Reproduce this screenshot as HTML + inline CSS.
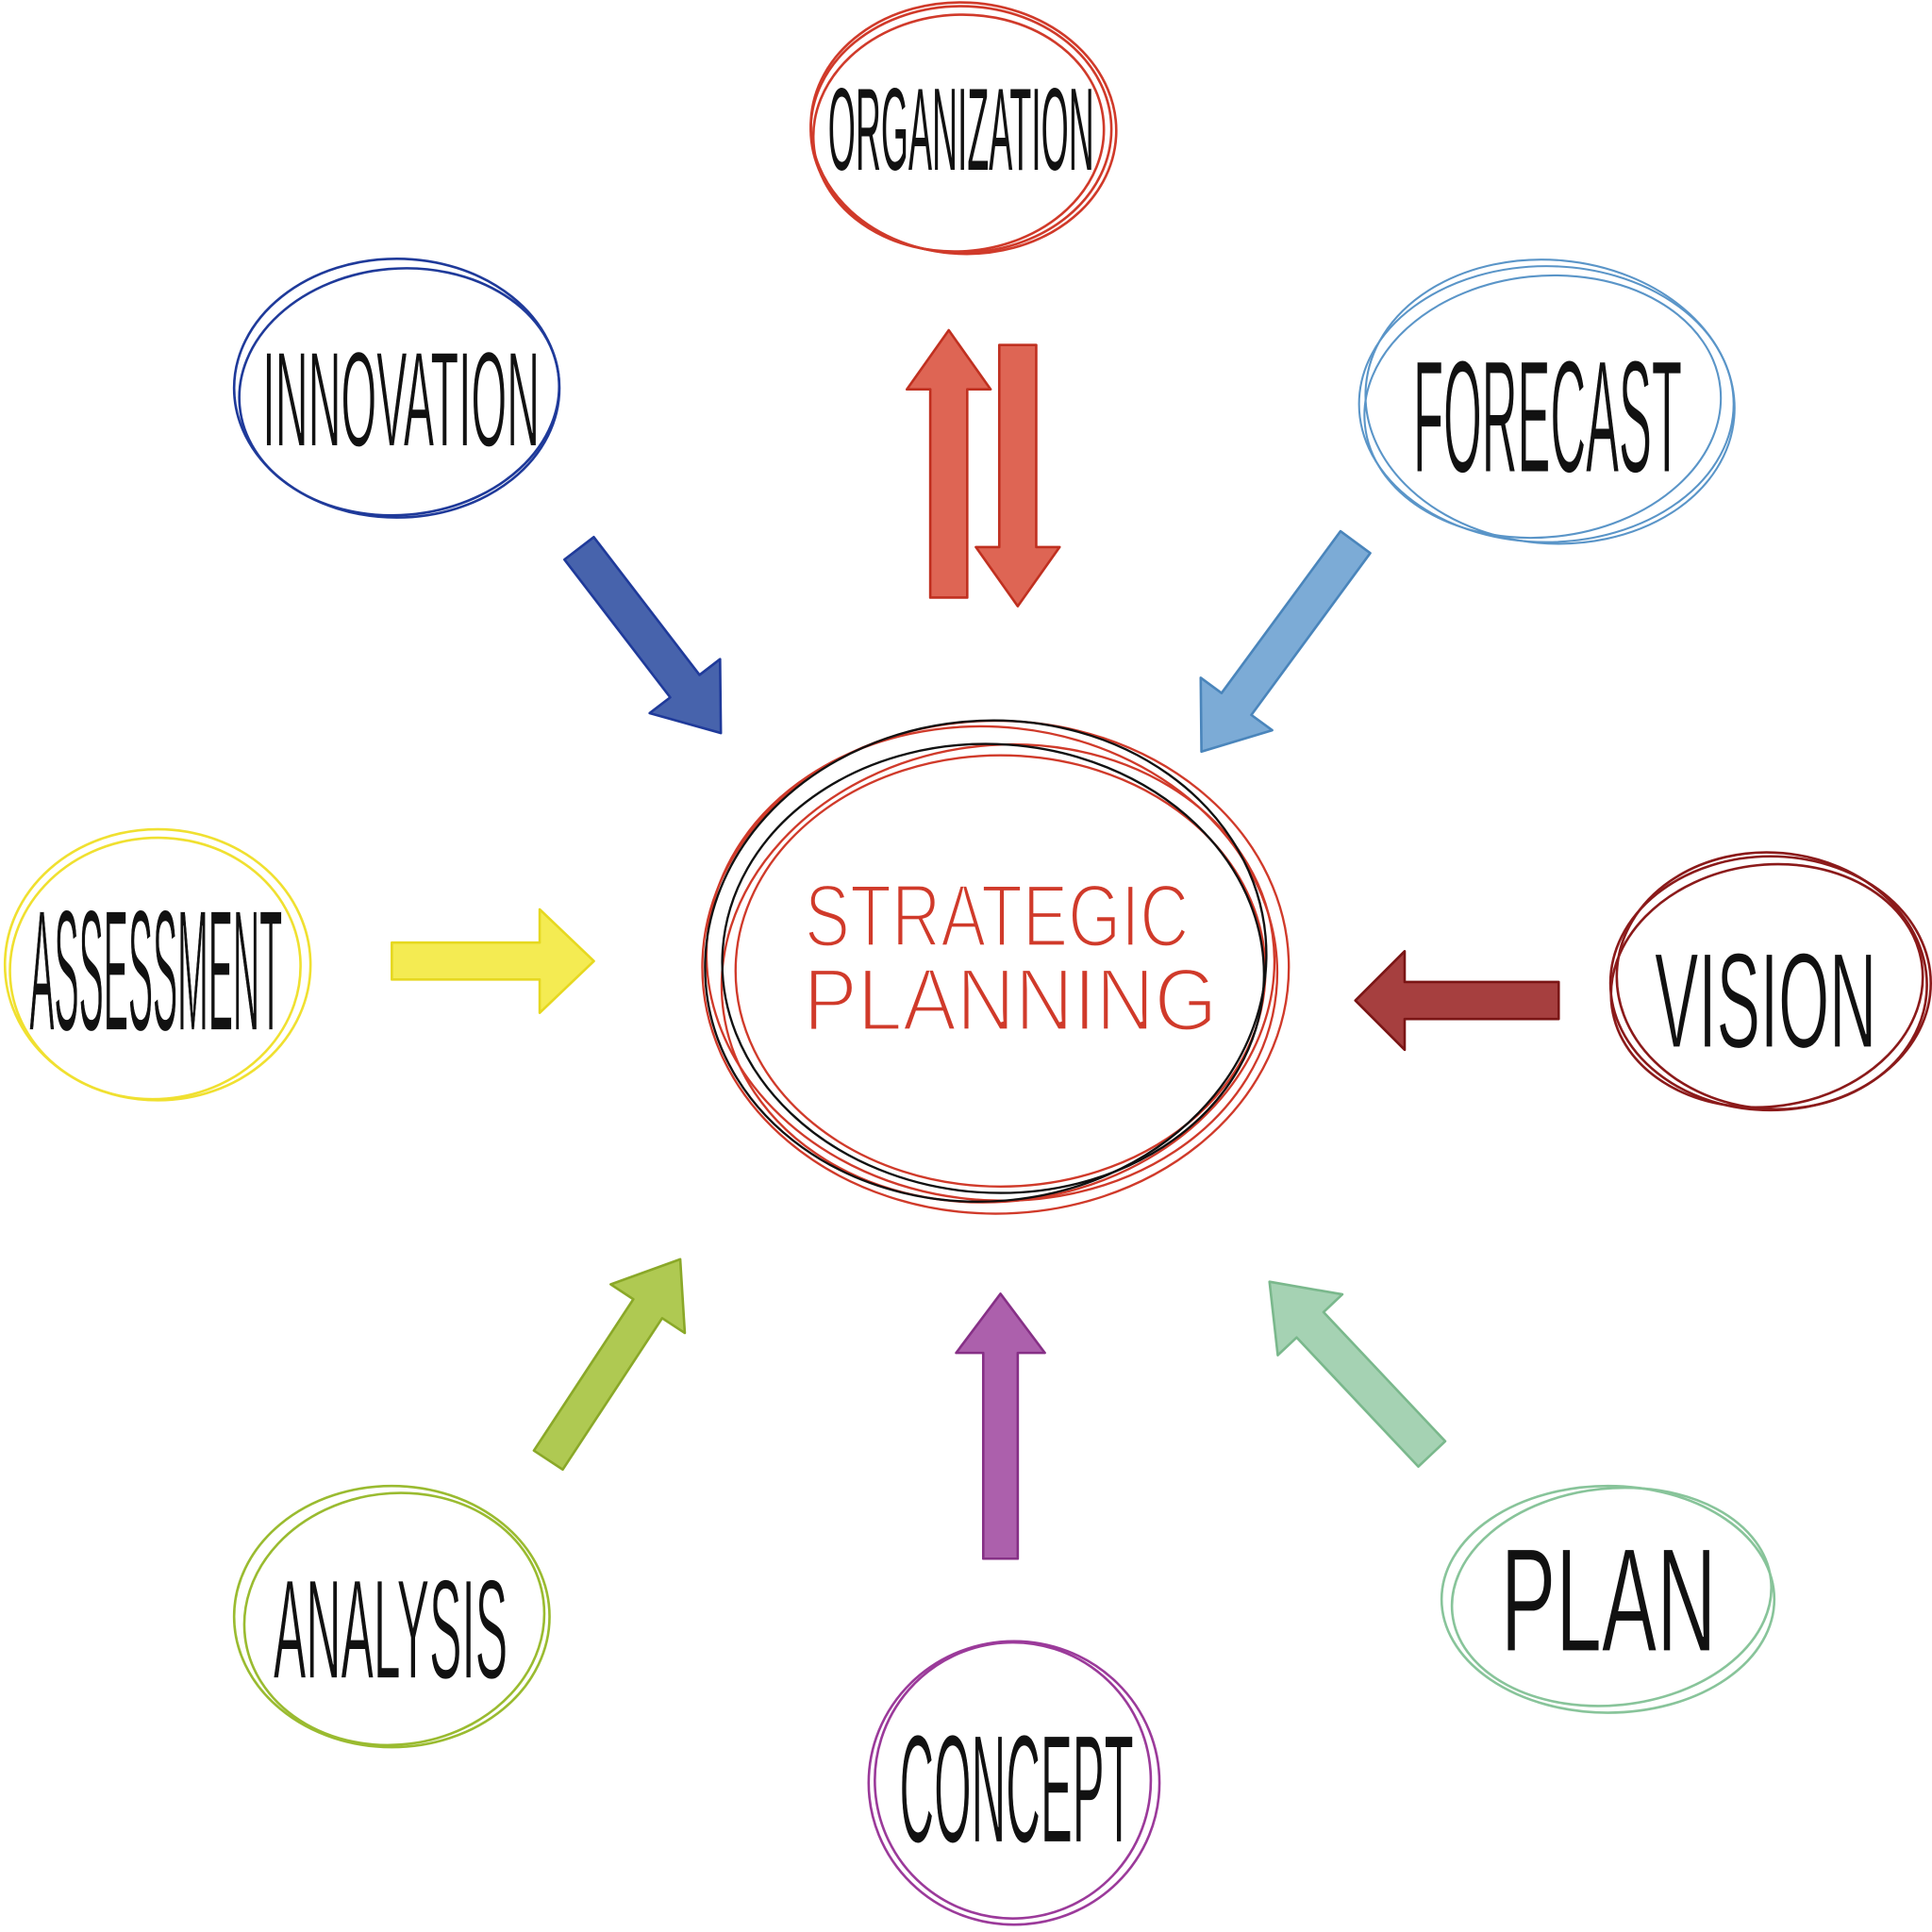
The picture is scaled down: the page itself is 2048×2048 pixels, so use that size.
<!DOCTYPE html>
<html><head><meta charset="utf-8"><style>
html,body{margin:0;padding:0;background:#fff;width:2048px;height:2048px;overflow:hidden}
svg{display:block}
.t{font-family:"Liberation Sans",sans-serif;fill:#111;font-weight:normal;stroke:#fff;stroke-width:1.2}
</style></head><body>
<svg width="2048" height="2048" viewBox="0 0 1568 1568" xmlns="http://www.w3.org/2000/svg">
<g fill="none" stroke-width="2">
<g stroke="#d03a2a"><ellipse cx="780" cy="105" rx="122" ry="100"/><ellipse cx="778" cy="108" rx="118" ry="96" transform="rotate(-4 778 108)"/><ellipse cx="782" cy="104" rx="124" ry="102" transform="rotate(3 782 104)"/></g>
<g stroke="#1f3a9a"><ellipse cx="322" cy="315" rx="132" ry="105"/><ellipse cx="324" cy="318" rx="130" ry="100" transform="rotate(-5 324 318)"/></g>
<g stroke="#5a95c8" stroke-width="1.6"><ellipse cx="1255" cy="328" rx="152" ry="112"/><ellipse cx="1252" cy="330" rx="145" ry="106" transform="rotate(-6 1252 330)"/><ellipse cx="1258" cy="326" rx="150" ry="115" transform="rotate(5 1258 326)"/></g>
<g stroke="#f0e030"><ellipse cx="128" cy="783" rx="124" ry="110"/><ellipse cx="126" cy="786" rx="118" ry="106" transform="rotate(-5 126 786)"/></g>
<g stroke="#8b1a1a"><ellipse cx="1437" cy="798" rx="130" ry="103"/><ellipse cx="1434" cy="800" rx="127" ry="98" transform="rotate(-8 1434 800)"/><ellipse cx="1438" cy="796" rx="126" ry="104" transform="rotate(5 1438 796)"/></g>
<g stroke="#9abb30"><ellipse cx="318" cy="1312" rx="128" ry="106"/><ellipse cx="320" cy="1314" rx="122" ry="102" transform="rotate(-7 320 1314)"/></g>
<g stroke="#9b3a9a"><ellipse cx="823" cy="1447" rx="118" ry="115"/><ellipse cx="822" cy="1445" rx="112" ry="112" transform="rotate(-4 822 1445)"/></g>
<g stroke="#88c49a"><ellipse cx="1305" cy="1298" rx="135" ry="92"/><ellipse cx="1308" cy="1296" rx="130" ry="88" transform="rotate(-6 1308 1296)"/></g>
<g stroke="#d03a2a" stroke-width="1.8">
<ellipse cx="808" cy="785" rx="238" ry="200"/>
<ellipse cx="810" cy="790" rx="225" ry="185" transform="rotate(-8 810 790)"/>
<ellipse cx="805" cy="782" rx="232" ry="192" transform="rotate(6 805 782)"/>
<ellipse cx="812" cy="788" rx="215" ry="175"/>
</g>
<g stroke="#111" stroke-width="1.8">
<ellipse cx="800" cy="780" rx="228" ry="195" transform="rotate(-5 800 780)"/>
<ellipse cx="806" cy="786" rx="220" ry="182" transform="rotate(4 806 786)"/>
</g>
</g>
<g stroke-width="2" stroke-linejoin="round" fill-opacity="0.88">
<g transform="translate(770 485) rotate(-90)" fill="#d9503c" stroke="#c03020"><path d="M0,-15 L169,-15 L169,-34 L217,0 L169,34 L169,15 L0,15Z"/></g>
<g transform="translate(826 280) rotate(90)" fill="#d9503c" stroke="#c03020"><path d="M0,-15 L164,-15 L164,-34 L212,0 L164,34 L164,15 L0,15Z"/></g>
<g transform="translate(470 445) rotate(52.5)" fill="#2e4da0" stroke="#1f3a9a"><path d="M0,-15 L141,-15 L141,-36 L189,0 L141,36 L141,15 L0,15Z"/></g>
<g transform="translate(1100 440) rotate(126.3)" fill="#6a9fd0" stroke="#4a85bb"><path d="M0,-15 L163,-15 L163,-36 L211,0 L163,36 L163,15 L0,15Z"/></g>
<g transform="translate(318 780) rotate(0)" fill="#f3e83a" stroke="#e6d820"><path d="M0,-15 L120,-15 L120,-42 L164,0 L120,42 L120,15 L0,15Z"/></g>
<g transform="translate(1265 812) rotate(180)" fill="#9a2424" stroke="#7a1515"><path d="M0,-15 L125,-15 L125,-40 L165,0 L125,40 L125,15 L0,15Z"/></g>
<g transform="translate(445 1185) rotate(-56.7)" fill="#a4c23a" stroke="#8aa828"><path d="M0,-14 L147,-14 L147,-36 L195,0 L147,36 L147,14 L0,14Z"/></g>
<g transform="translate(812 1265) rotate(-90)" fill="#a04aa0" stroke="#863086"><path d="M0,-14 L167,-14 L167,-36 L215,0 L167,36 L167,14 L0,14Z"/></g>
<g transform="translate(1162 1180) rotate(-133.3)" fill="#98cca8" stroke="#7ab88c"><path d="M0,-15 L144,-15 L144,-36 L192,0 L144,36 L144,15 L0,15Z"/></g>
</g>
<text class="t" x="672" y="138" font-size="95" textLength="216" lengthAdjust="spacingAndGlyphs" style="stroke:none">ORGANIZATION</text>
<text class="t" x="213" y="362" font-size="110" textLength="225" lengthAdjust="spacingAndGlyphs">INNOVATION</text>
<text class="t" x="1147" y="383" font-size="130" textLength="218" lengthAdjust="spacingAndGlyphs">FORECAST</text>
<text class="t" x="24" y="836" font-size="140" textLength="205" lengthAdjust="spacingAndGlyphs">ASSESSMENT</text>
<text class="t" x="1343" y="850" font-size="110" textLength="180" lengthAdjust="spacingAndGlyphs">VISION</text>
<text class="t" x="222" y="1362" font-size="115" textLength="190" lengthAdjust="spacingAndGlyphs">ANALYSIS</text>
<text class="t" x="730" y="1495" font-size="125" textLength="190" lengthAdjust="spacingAndGlyphs">CONCEPT</text>
<text class="t" x="1218" y="1340" font-size="120" textLength="175" lengthAdjust="spacingAndGlyphs">PLAN</text>
<text x="653" y="768" font-family="Liberation Sans,sans-serif" font-size="72" fill="#d03a2a" stroke="#fff" stroke-width="2.5" textLength="312" lengthAdjust="spacingAndGlyphs">STRATEGIC</text>
<text x="652" y="836" font-family="Liberation Sans,sans-serif" font-size="72" fill="#d03a2a" stroke="#fff" stroke-width="2.5" textLength="336" lengthAdjust="spacingAndGlyphs">PLANNING</text>
</svg>
</body></html>
